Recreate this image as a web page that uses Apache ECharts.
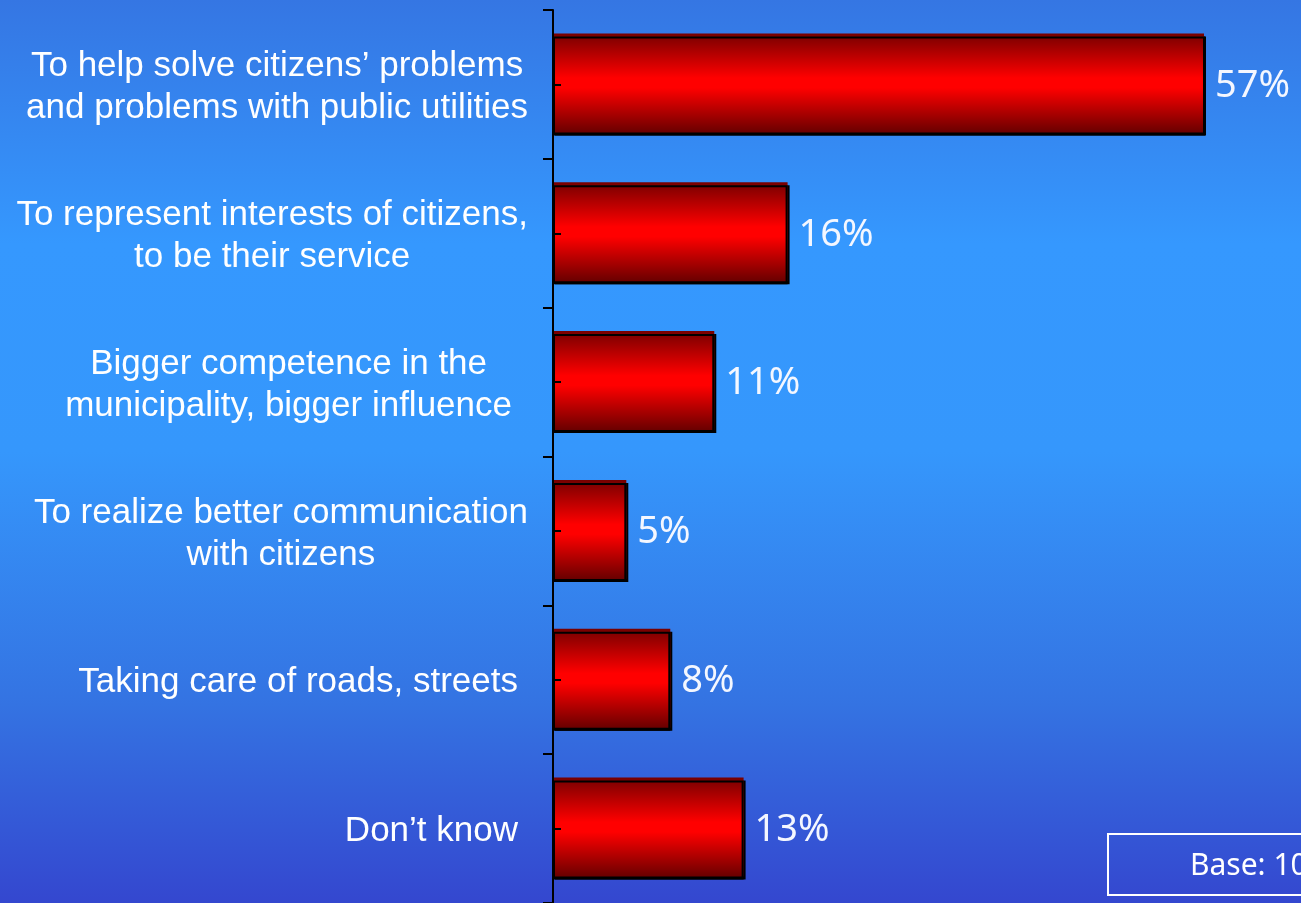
<!DOCTYPE html>
<html>
<head>
<meta charset="utf-8">
<script src="https://cdn.jsdelivr.net/npm/echarts@6/dist/echarts.min.js"></script>
<style>
html,body{margin:0;padding:0;width:1301px;height:903px;overflow:hidden;background:#3590f5;}
#chart{width:1301px;height:903px;}
</style>
</head>
<body>
<div id="chart"></div>
<script>
var categories = [
  "To help solve citizens\u2019 problems\nand problems with public utilities",
  "To represent interests of citizens,\nto be their service",
  "Bigger competence in the\nmunicipality, bigger influence",
  "To realize better communication\nwith citizens",
  "Taking care of roads, streets",
  "Don\u2019t know"
];
var values = [57, 16, 11, 5, 8, 13];
var baseNote = "Base: 1000";

// extra right padding of each category label block (layout only)
var labelPadRight = [0, 0, 16, 0, 10, 10];

var chart = echarts.init(document.getElementById('chart'), null, {renderer: 'canvas'});

var rich = {};
labelPadRight.forEach(function (p, i) {
  rich['c' + i] = {
    align: 'center', color: '#ffffff', fontSize: 35, lineHeight: 42,
    fontFamily: 'Liberation Sans, Arial, sans-serif', padding: [0, p, 0, 0]
  };
});

var option = {
  animation: false,
  backgroundColor: {
    type: 'linear', x: 0, y: 0, x2: 0, y2: 1,
    colorStops: [
      {offset: 0, color: '#3576e3'},
      {offset: 0.27, color: '#3598fe'},
      {offset: 0.5, color: '#3597fc'},
      {offset: 0.78, color: '#3473e2'},
      {offset: 1, color: '#3447cf'}
    ]
  },
  grid: {left: 553, right: 97, top: 10, bottom: -1, containLabel: false},
  xAxis: {
    type: 'value', min: 0, max: 44.4, show: false
  },
  yAxis: [
    {
      type: 'category',
      inverse: true,
      data: categories,
      position: 'left',
      z: 5,
      axisLine: {show: true, lineStyle: {color: '#000', width: 2}},
      axisTick: {show: true, length: 10, alignWithLabel: false, lineStyle: {color: '#000', width: 2}},
      axisLabel: {
        margin: 25,
        align: 'right',
        padding: [6, 0, 0, 0],
        formatter: function (v, i) {
          return v.split('\n').map(function (l) { return '{c' + i + '|' + l + '}'; }).join('\n');
        },
        rich: rich
      },
      splitLine: {show: false}
    },
    {
      type: 'category',
      inverse: true,
      data: categories,
      position: 'left',
      z: 10,
      axisLine: {show: false},
      axisTick: {show: true, inside: true, length: 8, alignWithLabel: true, lineStyle: {color: '#000', width: 2}},
      axisLabel: {show: false},
      splitLine: {show: false}
    }
  ],
  series: [
    {
      name: 'fill',
      type: 'bar',
      data: values,
      barWidth: 99,
      barGap: '-97%',
      clip: true,
      itemStyle: {
        color: {
          type: 'linear', x: 0, y: 0, x2: 0, y2: 1,
          colorStops: [
            {offset: 0, color: '#760000'},
            {offset: 0.45, color: '#ff0000'},
            {offset: 0.55, color: '#ff0000'},
            {offset: 1, color: '#6a0000'}
          ]
        },
        shadowColor: '#000',
        shadowBlur: 0,
        shadowOffsetX: 2,
        shadowOffsetY: 3
      },
      label: {
        show: true,
        position: 'right',
        distance: 11,
        offset: [0, 3],
        formatter: '{c}%',
        color: '#f4f7ff',
        fontSize: 38,
        fontFamily: 'Noto Sans, sans-serif'
      }
    },
    {
      name: 'outline',
      type: 'bar',
      data: values,
      barWidth: 99,
      barGap: '-97%',
      clip: true,
      silent: true,
      itemStyle: {color: 'rgba(0,0,0,0)', borderColor: '#000', borderWidth: 2},
      label: {show: false}
    }
  ],
  graphic: [
    {
      type: 'rect',
      shape: {x: 1108, y: 834, width: 260, height: 61},
      style: {fill: 'none', stroke: '#ffffff', lineWidth: 2},
      z: 20
    },
    {
      type: 'text',
      x: 1190,
      y: 866,
      style: {text: baseNote, fill: '#ffffff', font: '30px "Noto Sans", sans-serif', verticalAlign: 'middle'},
      z: 20
    }
  ]
};
chart.setOption(option);
</script>
</body>
</html>
